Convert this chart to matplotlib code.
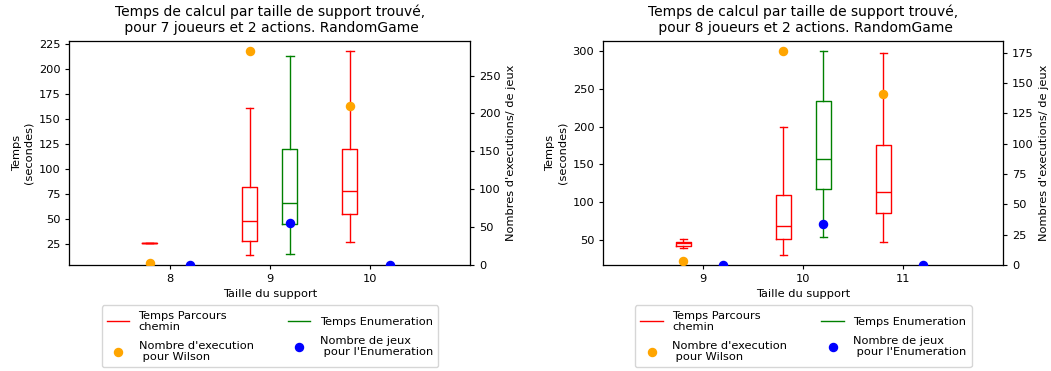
import matplotlib
matplotlib.use("Agg")
import matplotlib.pyplot as plt
from matplotlib.lines import Line2D

# ---------------- data ----------------
sizes_7 = [8, 9, 10]
parcours_7 = [[26, 26, 26, 26, 26], [14, 28, 48, 82, 161], [27, 55, 78, 120, 218]]
enum_7_sizes = [9]
enum_7 = [[15, 45, 66, 120, 213]]
wilson_7 = [2, 282, 210]
jeux_7 = [0, 56, 0]

sizes_8 = [9, 10, 11]
parcours_8 = [[39.5, 42.5, 45.5, 48, 51], [30.5, 51, 69, 110, 199], [48, 86, 113, 176, 297]]
enum_8_sizes = [10]
enum_8 = [[54, 117, 157, 234, 300]]
wilson_8 = [3, 176, 141]
jeux_8 = [0, 34, 0]

titles = ["Temps de calcul par taille de support trouvé,\n pour 7 joueurs et 2 actions. RandomGame",
          "Temps de calcul par taille de support trouvé,\n pour 8 joueurs et 2 actions. RandomGame"]

plt.rcParams['font.family'] = ['DejaVu Sans']
plt.rcParams['font.size'] = 8.2
plt.rcParams['axes.linewidth'] = 0.82
plt.rcParams['xtick.major.width'] = 0.82
plt.rcParams['ytick.major.width'] = 0.82
plt.rcParams['xtick.major.size'] = 2.9
plt.rcParams['ytick.major.size'] = 2.9

fig = plt.figure(figsize=(10.51, 3.71), dpi=100)
ax_pos = [[0.066, 0.2857, 0.3813, 0.6046], [0.574, 0.2857, 0.3806, 0.6046]]


def stats(vals):
    lo, q1, med, q3, hi = vals
    return dict(whislo=lo, q1=q1, med=med, q3=q3, whishi=hi, fliers=[])


def draw(pos, sizes, parcours, enum_sizes, enum, wilson, jeux, title):
    ax = fig.add_axes(pos)
    lw = 1.0
    ax.bxp([stats(v) for v in parcours], positions=[s - 0.2 for s in sizes],
           widths=0.15, showfliers=False,
           boxprops=dict(color='red', linewidth=lw),
           whiskerprops=dict(color='red', linewidth=lw),
           capprops=dict(color='red', linewidth=lw),
           medianprops=dict(color='red', linewidth=lw))
    ax.bxp([stats(v) for v in enum], positions=[s + 0.2 for s in enum_sizes],
           widths=0.15, showfliers=False,
           boxprops=dict(color='green', linewidth=lw),
           whiskerprops=dict(color='green', linewidth=lw),
           capprops=dict(color='green', linewidth=lw),
           medianprops=dict(color='green', linewidth=lw))
    ax.set_xlim(sizes[0] - 1, sizes[-1] + 1)
    ax.set_xticks(sizes)
    ax.set_xticklabels([str(s) for s in sizes])
    ax.set_xlabel("Taille du support")
    ax.set_ylabel("Temps\n(secondes)")
    ax.set_title(title, fontsize=10.0)

    ax2 = ax.twinx()
    ax2.scatter([s - 0.2 for s in sizes], wilson, color='orange', s=34, zorder=3)
    ax2.scatter([s + 0.2 for s in sizes], jeux, color='blue', s=34, zorder=3)
    ax2.set_ylim(bottom=0)
    ax2.set_ylabel("Nombres d'executions/ de jeux")

    handles = [Line2D([], [], color='red', lw=1.0),
               Line2D([], [], color='orange', marker='o', ls='none', markersize=5.8),
               Line2D([], [], color='green', lw=1.0),
               Line2D([], [], color='blue', marker='o', ls='none', markersize=5.8)]
    labels = ["Temps Parcours\nchemin", "Nombre d'execution\n pour Wilson",
              "Temps Enumeration", "Nombre de jeux\n pour l'Enumeration"]
    leg = ax.legend(handles, labels, ncol=2, loc='upper center',
                    bbox_to_anchor=(0.5, -0.165), fontsize=8.2, frameon=True,
                    columnspacing=3.0, labelspacing=0.75, borderpad=0.45,
                    borderaxespad=0.3)
    return ax, ax2, leg


draw(ax_pos[0], sizes_7, parcours_7, enum_7_sizes, enum_7, wilson_7, jeux_7, titles[0])
draw(ax_pos[1], sizes_8, parcours_8, enum_8_sizes, enum_8, wilson_8, jeux_8, titles[1])

fig.savefig("out.png", dpi=100)
